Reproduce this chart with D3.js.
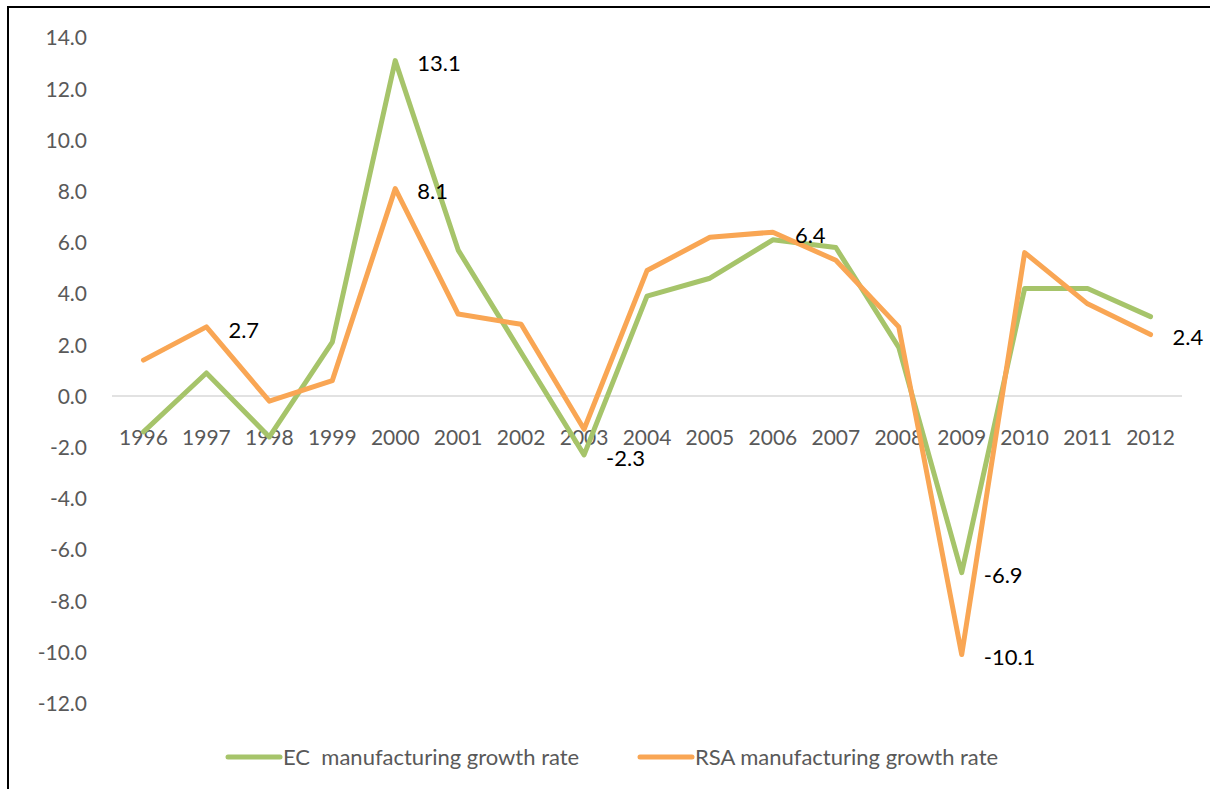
<!DOCTYPE html>
<html>
<head>
<meta charset="utf-8">
<script src="https://cdn.jsdelivr.net/npm/d3@7"></script>
<style>
  body { margin: 0; background: #fff; }
  svg { display: block; font-family: Lato, "Open Sans", sans-serif; }
</style>
</head>
<body>
<svg class="chart"></svg>
<script>
// years on the x axis
const years = ["1996", "1997", "1998", "1999", "2000", "2001", "2002", "2003", "2004",
    "2005", "2006", "2007", "2008", "2009", "2010", "2011", "2012"];

// growth rates
const ecGrowth = [-1.4, 0.9, -1.6, 2.1, 13.1, 5.7, 1.7, -2.3, 3.9, 4.6, 6.1, 5.8, 1.9, -6.9, 4.2, 4.2, 3.1];
const rsaGrowth = [1.4, 2.7, -0.2, 0.6, 8.1, 3.2, 2.8, -1.3, 4.9, 6.2, 6.4, 5.3, 2.7, -10.1, 5.6, 3.6, 2.4];

// which points carry a data label
const ecLabelled = [4, 7, 13];
const rsaLabelled = [1, 4, 10, 13, 16];

const yTicks = [14, 12, 10, 8, 6, 4, 2, 0, -2, -4, -6, -8, -10, -12];
const seriesNames = ["EC  manufacturing growth rate", "RSA manufacturing growth rate"];
const colors = ["#a6c46a", "#f9a654"];

const width = 1210, height = 789;

const svg = d3.select(".chart")
    .attr("width", width)
    .attr("height", height);

// outer frame, right and bottom edges run off the picture
svg.append("rect")
    .attr("x", 8).attr("y", 7)
    .attr("width", width + 20).attr("height", height + 20)
    .attr("fill", "none")
    .attr("stroke", "#000")
    .attr("stroke-width", 2);

const xScale = d3.scaleBand()
    .domain(years)
    .range([112, 1182]);

const yScale = d3.scaleLinear()
    .domain([-12, 14])
    .range([703.2, 37.6]);

const cx = d => xScale(d) + xScale.bandwidth() / 2;
const fmt = d => d.toFixed(1); // plain hyphen for negatives, like the original

// y axis labels (no axis line)
const yAxis = d3.axisLeft(yScale)
    .tickValues(yTicks)
    .tickFormat(fmt)
    .tickSize(0)
    .tickPadding(0);

svg.append("g")
    .attr("transform", "translate(87,0)")
    .call(yAxis)
    .call(g => g.select(".domain").remove())
    .selectAll("text")
    .attr("font-size", 21)
    .attr("fill", "#595959")
    .attr("font-family", "Lato, sans-serif")
    .attr("dy", "0.35em");

// zero line
svg.append("line")
    .attr("x1", 112).attr("x2", 1182)
    .attr("y1", yScale(0)).attr("y2", yScale(0))
    .attr("stroke", "#d9d9d9")
    .attr("stroke-width", 1.5);

// category labels below the zero line
const xAxis = d3.axisBottom(xScale).tickSize(0).tickPadding(0);
svg.append("g")
    .attr("transform", `translate(0,${yScale(0) + 49})`)
    .call(xAxis)
    .call(g => g.select(".domain").remove())
    .selectAll("text")
    .attr("font-size", 21)
    .attr("fill", "#595959")
    .attr("font-family", "Lato, sans-serif")
    .attr("dy", "0");

const line = d3.line()
    .x((d, i) => cx(years[i]))
    .y(d => yScale(d));

const series = [ecGrowth, rsaGrowth];
const labelled = [ecLabelled, rsaLabelled];

// EC drawn first, RSA on top
series.forEach((values, s) => {
    svg.append("path")
        .datum(values)
        .attr("d", line)
        .attr("fill", "none")
        .attr("stroke", colors[s])
        .attr("stroke-width", 5)
        .attr("stroke-linejoin", "round")
        .attr("stroke-linecap", "round");
});

// data labels to the right of the points
series.forEach((values, s) => {
    svg.selectAll(".lab" + s)
        .data(labelled[s])
        .enter()
        .append("text")
        .attr("x", i => cx(years[i]) + 22)
        .attr("y", i => yScale(values[i]) + 3)
        .attr("dy", "0.35em")
        .attr("font-size", 22)
        .attr("fill", "#000")
        .text(i => fmt(values[i]));
});

// legend
const legendX = [228, 640];
const legend = svg.selectAll(".legend")
    .data(seriesNames)
    .enter()
    .append("g")
    .attr("transform", (d, i) => `translate(${legendX[i]},757)`);

legend.append("line")
    .attr("x1", 0).attr("x2", 52)
    .attr("stroke", (d, i) => colors[i])
    .attr("stroke-width", 5)
    .attr("stroke-linecap", "round");

legend.append("text")
    .attr("x", 55)
    .attr("dy", "0.35em")
    .attr("font-size", 22)
    .attr("fill", "#595959")
    .style("white-space", "pre")
    .text(d => d);
</script>
</body>
</html>
